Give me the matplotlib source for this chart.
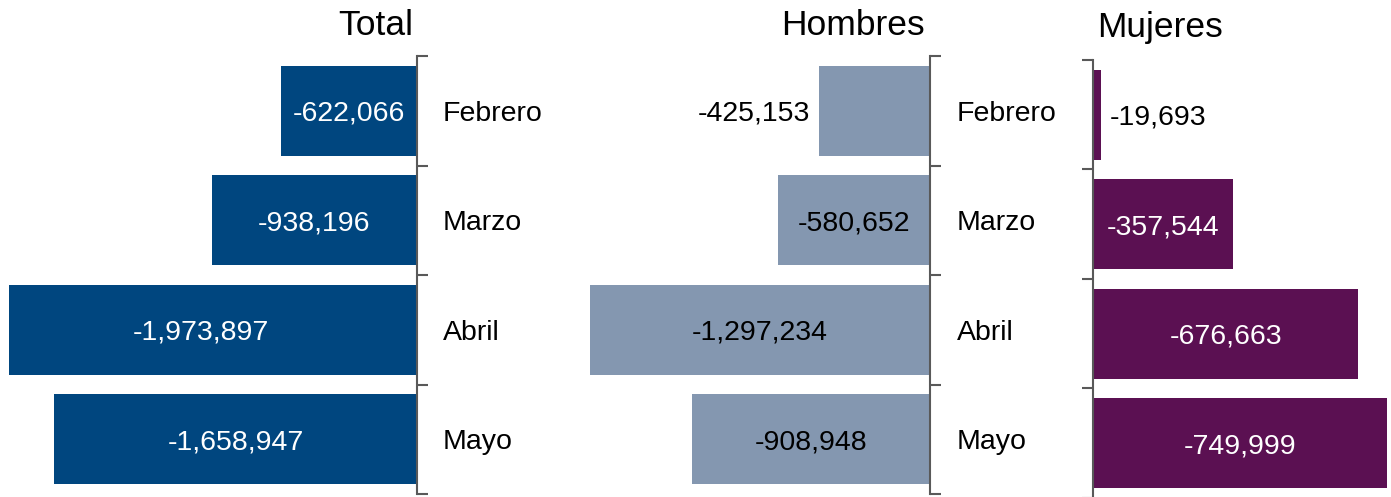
import matplotlib
matplotlib.use("Agg")
import matplotlib.pyplot as plt
import numpy as np

plt.rcParams['font.family'] = ['Liberation Sans', 'DejaVu Sans']

meses = ['Febrero', 'Marzo', 'Abril', 'Mayo']
total = [-622066, -938196, -1973897, -1658947]
hombres = [-425153, -580652, -1297234, -908948]
mujeres = [-19693, -357544, -676663, -749999]

c_total = '#00467F'
c_hombres = '#8497B0'
c_mujeres = '#5B1052'
gris = '#595959'

W, H = 1391, 497
fig = plt.figure(figsize=(W / 100, H / 100), dpi=100)

def px(x0, y0, x1, y1):
    # caja en pixeles -> fraccion de figura
    return [x0 / W, 1 - y1 / H, (x1 - x0) / W, (y1 - y0) / H]

ax1 = fig.add_axes(px(9, 56, 417, 494))
ax2 = fig.add_axes(px(560, 56, 930, 494))
ax3 = fig.add_axes(px(1093, 60, 1388, 498))

y = np.arange(len(meses))
fs = 20.5

def estilo(ax, lado):
    for s in ax.spines.values():
        s.set_visible(False)
    ax.spines[lado].set_visible(True)
    ax.spines[lado].set_color(gris)
    ax.spines[lado].set_linewidth(1.5)
    ax.set_ylim(len(meses) - 0.5, -0.5)
    ax.set_yticks(np.arange(len(meses) + 1) - 0.5)
    ax.set_yticklabels([])
    ax.set_xticks([])
    if lado == 'right':
        ax.yaxis.tick_right()
    ax.tick_params(axis='y', length=8, width=1.5, color=gris, direction='out')

# Total
ax1.barh(y, total, height=0.82, color=c_total)
ax1.set_xlim(-1867000, 0)
estilo(ax1, 'right')
for i, v in enumerate(total):
    ax1.text(v / 2, i, f"{v:,}", ha='center', va='center_baseline', color='white', fontsize=fs)
    ax1.text(1.064, i, meses[i], transform=ax1.get_yaxis_transform(),
             ha='left', va='center_baseline', fontsize=fs)

# Hombres
ax2.barh(y, hombres, height=0.82, color=c_hombres)
ax2.set_xlim(-1412000, 0)
estilo(ax2, 'right')
for i, v in enumerate(hombres):
    if abs(v) < 500000:
        ax2.text(v - 33000, i, f"{v:,}", ha='right', va='center_baseline', color='black', fontsize=fs)
    else:
        ax2.text(v / 2, i, f"{v:,}", ha='center', va='center_baseline', color='black', fontsize=fs)
    ax2.text(1.073, i, meses[i], transform=ax2.get_yaxis_transform(),
             ha='left', va='center_baseline', fontsize=fs)

# Mujeres (barras hacia la derecha)
mv = [abs(v) for v in mujeres]
ax3.barh(y, mv, height=0.82, color=c_mujeres)
ax3.set_xlim(0, 752500)
estilo(ax3, 'left')
for i, v in enumerate(mujeres):
    if abs(v) < 100000:
        ax3.text(abs(v) + 23000, i, f"{v:,}", ha='left', va='center_baseline', color='black', fontsize=fs)
    else:
        ax3.text(abs(v) / 2, i, f"{v:,}", ha='center', va='center_baseline', color='white', fontsize=fs)

fig.text(413 / W, 1 - 35 / H, 'Total', ha='right', va='baseline', fontsize=25.5)
fig.text(925 / W, 1 - 35 / H, 'Hombres', ha='right', va='baseline', fontsize=25.5)
fig.text(1097 / W, 1 - 37 / H, 'Mujeres', ha='left', va='baseline', fontsize=25.5)

fig.savefig('out.png', dpi=100)
